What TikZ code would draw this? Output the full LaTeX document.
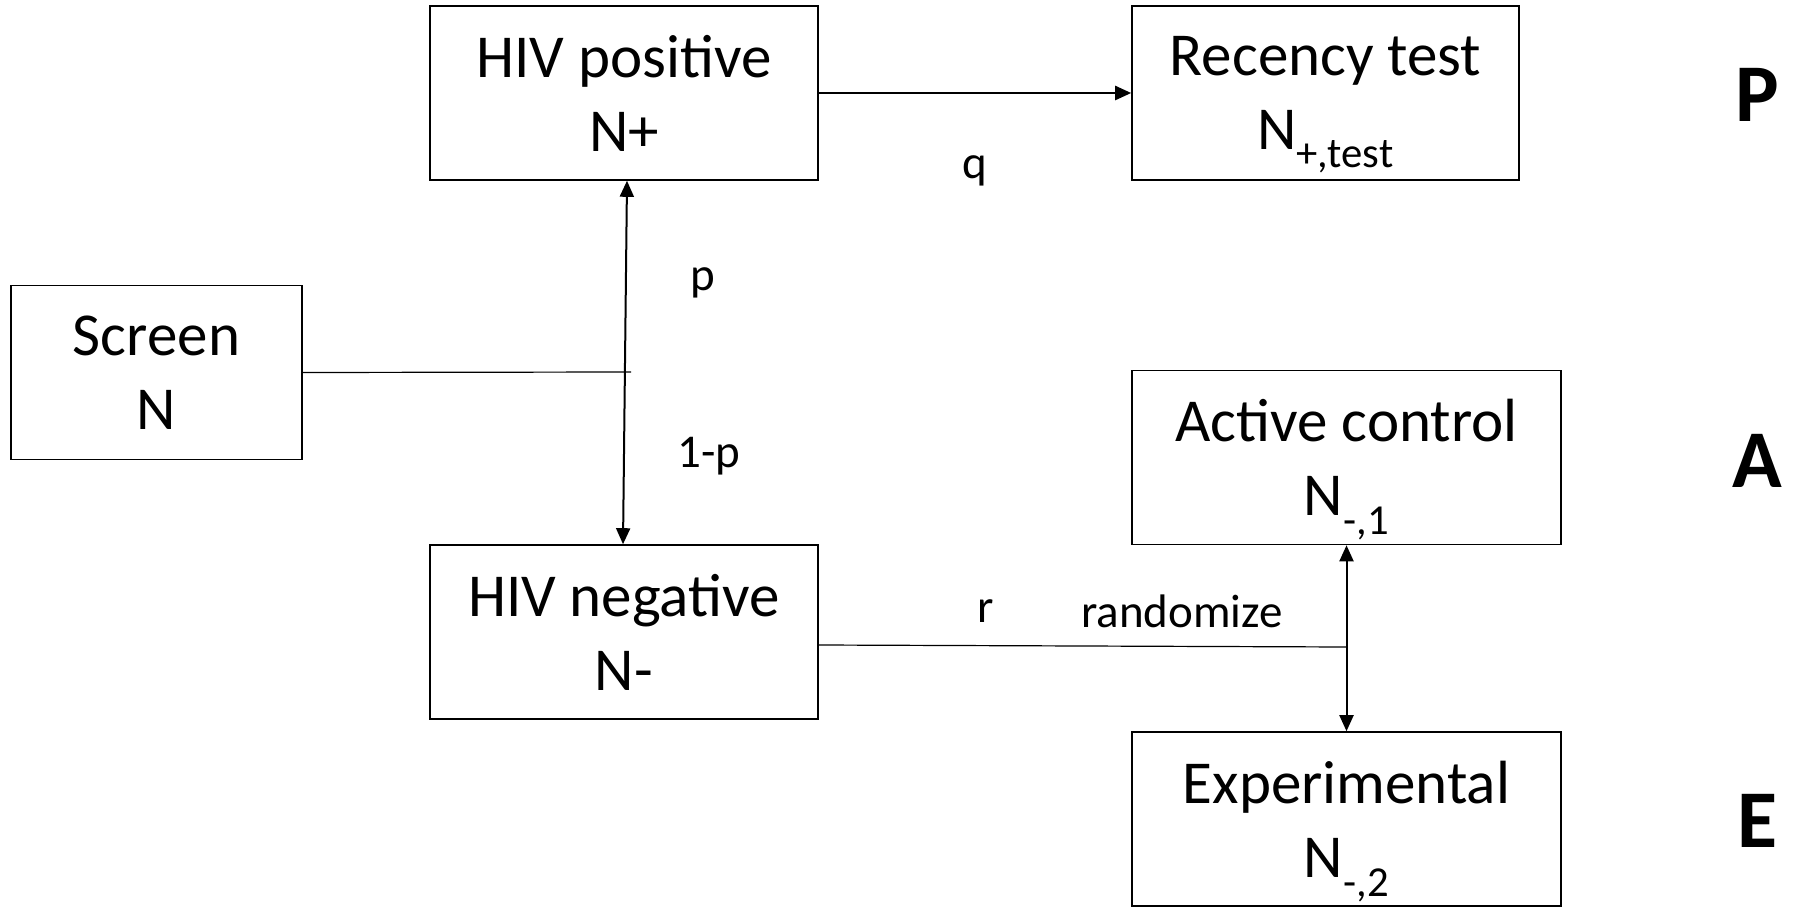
\documentclass[tikz,border=0pt]{standalone}
\usepackage{fontspec}
\setmainfont{Carlito}
\usetikzlibrary{arrows.meta,positioning}

\begin{document}
\begin{tikzpicture}[x=1pt, y=-1pt, >={Triangle[length=16pt,width=14pt]},
  box/.style={draw, line width=1.6pt, align=center, inner sep=0pt,
    minimum height=174pt, font=\fontsize{61}{74}\selectfont},
  lbl/.style={font=\fontsize{47}{56}\selectfont},
  arm/.style={font=\bfseries\fontsize{82}{90}\selectfont}]
  \useasboundingbox (0,0) rectangle (1793,909);
  % boxes
  \node[box, minimum width=291pt] (scr) at (156.5,372.5) {Screen\\N};
  \node[box, minimum width=388pt] (pos) at (624,93) {HIV positive\\N+};
  \node[box, minimum width=388pt] (neg) at (624,632) {HIV negative\\N-};
  \node[box, minimum width=387pt] (rec) at (1325.5,93) {Recency test\\\smash{N\textsubscript{+,test}}};
  \node[box, minimum width=429pt] (act) at (1346.5,457.5) {Active control\\\smash{N\textsubscript{-,1}}};
  \node[box, minimum width=429pt] (exp) at (1346.5,819) {Experimental\\\smash{N\textsubscript{-,2}}};
  % arm letters
  \node[arm] (armP) at (1757,95) {P};
  \node[arm] (armA) at (1757,461) {A};
  \node[arm] (armE) at (1757,821) {E};
  % connectors
  \coordinate (sj) at (631,372);
  \coordinate (rj) at (1346.5,647);
  \draw[line width=1.2pt] (scr.east) -- (sj);
  \draw[<->, line width=2pt] ([xshift=3pt]pos.south) -- ([xshift=-1pt]neg.north);
  \draw[->, line width=2.4pt] (pos.east) -- (rec.west);
  \draw[line width=1.2pt] ([yshift=-13pt]neg.east) -- (rj);
  \draw[<->, line width=2pt] (act.south) -- (exp.north);
  % labels
  \node[lbl] (lq) at (975,171) {q};
  \node[lbl] (lp) at (703,283) {p};
  \node[lbl] (l1p) at (709,456) {1-p};
  \node[lbl] (lr) at (986,611) {r};
  \node[lbl] (lrand) at (1182,611) {randomize};
\end{tikzpicture}
\end{document}
